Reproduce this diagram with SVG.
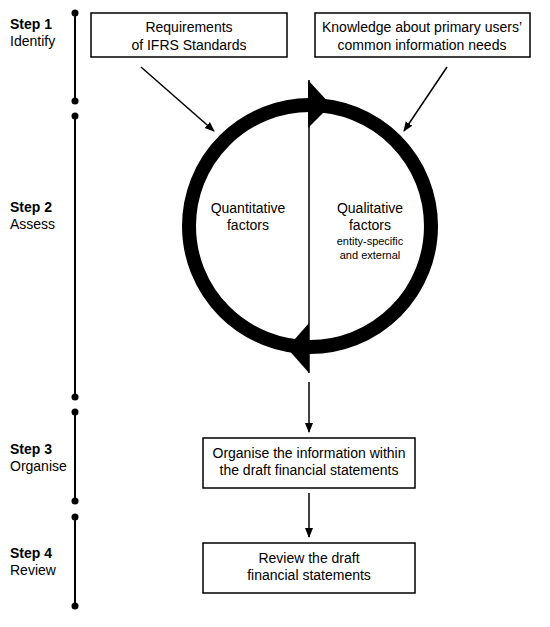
<svg xmlns="http://www.w3.org/2000/svg" width="550" height="627" viewBox="0 0 550 627">
<style>
text{font-family:"Liberation Sans",Arial,sans-serif;fill:#000}
.t{font-size:14px}
.b{font-size:14px;font-weight:bold}
.s{font-size:11px}
.c{text-anchor:middle}
.box{fill:#fff;stroke:#000;stroke-width:1.5}
.tl{stroke:#000;stroke-width:2}
.ln{stroke:#000;stroke-width:1.5;fill:none}
</style>
<defs>
<marker id="ah" markerWidth="10" markerHeight="10" refX="9" refY="5" orient="auto" markerUnits="userSpaceOnUse">
<path d="M0,1 L10,5 L0,9 Z" fill="#000"/>
</marker>
</defs>
<rect width="550" height="627" fill="#fff"/>
<g id="timeline">
<line class="tl" x1="75" y1="13" x2="75" y2="101"/>
<circle cx="75" cy="13" r="3.5"/><circle cx="75" cy="101" r="3.5"/>
<line class="tl" x1="75" y1="116" x2="75" y2="397"/>
<circle cx="75" cy="116" r="3.5"/><circle cx="75" cy="397" r="3.5"/>
<line class="tl" x1="75" y1="412" x2="75" y2="501"/>
<circle cx="75" cy="412" r="3.5"/><circle cx="75" cy="501" r="3.5"/>
<line class="tl" x1="75" y1="517" x2="75" y2="606"/>
<circle cx="75" cy="517" r="3.5"/><circle cx="75" cy="606" r="3.5"/>
</g>
<g id="step-labels">
<text class="b" x="10" y="29">Step 1</text><text class="t" x="10" y="46">Identify</text>
<text class="b" x="10" y="212">Step 2</text><text class="t" x="10" y="229">Assess</text>
<text class="b" x="10" y="454">Step 3</text><text class="t" x="10" y="471">Organise</text>
<text class="b" x="10" y="558">Step 4</text><text class="t" x="10" y="575">Review</text>
</g>
<g id="req">
<rect class="box" x="91" y="13" width="196" height="44"/>
<text class="t c" x="189" y="32">Requirements</text>
<text class="t c" x="189" y="50">of IFRS Standards</text>
</g>
<g id="knowledge">
<rect class="box" x="315" y="13" width="215" height="44"/>
<text class="t c" x="422" y="32">Knowledge about primary users’</text>
<text class="t c" x="422" y="50">common information needs</text>
</g>
<g id="cycle">
<circle cx="310" cy="226" r="121" fill="none" stroke="#000" stroke-width="14"/>
<line x1="309" y1="80" x2="309" y2="373" stroke="#000" stroke-width="1.5"/>
<polygon points="308,80 331,105 308,128"/>
<polygon points="309,323 287,348 309,373"/>
<text class="t c" x="248" y="213">Quantitative</text>
<text class="t c" x="248" y="230">factors</text>
<text class="t c" x="370" y="213">Qualitative</text>
<text class="t c" x="370" y="230">factors</text>
<text class="s c" x="370" y="245">entity-specific</text>
<text class="s c" x="370" y="259">and external</text>
</g>
<g id="organise">
<rect class="box" x="203" y="438" width="212" height="50"/>
<text class="t c" x="309" y="458">Organise the information within</text>
<text class="t c" x="309" y="475">the draft financial statements</text>
</g>
<g id="review">
<rect class="box" x="203" y="543" width="212" height="50"/>
<text class="t c" x="309" y="563">Review the draft</text>
<text class="t c" x="309" y="580">financial statements</text>
</g>
<g id="connectors">
<line class="ln" x1="141" y1="67" x2="214" y2="131" marker-end="url(#ah)"/>
<line class="ln" x1="447" y1="67" x2="404" y2="131" marker-end="url(#ah)"/>
<line class="ln" x1="309" y1="382" x2="309" y2="432" marker-end="url(#ah)"/>
<line class="ln" x1="309" y1="493" x2="309" y2="537" marker-end="url(#ah)"/>
</g>
</svg>
